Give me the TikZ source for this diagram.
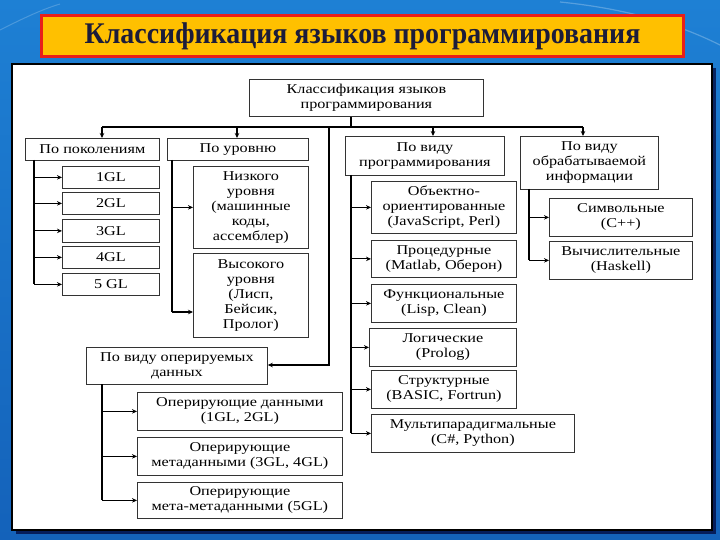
\documentclass[tikz,border=0pt]{standalone}
\usepackage{fontspec}
\setmainfont{Liberation Serif}
\newfontfamily\boxfont[FakeStretch=1.2]{Liberation Serif}
\newfontfamily\titlefont[FakeStretch=0.93]{Liberation Serif}
\usetikzlibrary{arrows.meta}
\definecolor{bgtop}{HTML}{1E80D4}
\definecolor{bgbot}{HTML}{1462BA}
\definecolor{titlefill}{HTML}{FFC000}
\definecolor{titleline}{HTML}{E8201A}
\definecolor{titletext}{HTML}{1C1C3A}
\definecolor{boxline}{HTML}{333333}
\tikzset{
  box/.style={draw=boxline, line width=0.8pt, fill=white, anchor=north west, inner sep=0pt,
    align=center, font=\boxfont\fontsize{13.5}{15}\selectfont},
  conn/.style={line width=1.1pt, draw=black},
  arr/.style={conn, -{Stealth[length=5pt,width=4.5pt]}},
}
\begin{document}
\begin{tikzpicture}[x=1pt,y=-1pt]
\useasboundingbox (0,0) rectangle (720,540);
% background
\shade[top color=bgtop, bottom color=bgbot] (0,0) rectangle (720,540);
\draw[white, opacity=0.25, line width=1.2pt] (560,2) .. controls (640,10) and (690,30) .. (720,45);
\draw[white, opacity=0.2, line width=1pt] (0,30) .. controls (20,20) and (40,10) .. (60,4);
% title
\node[draw=titleline, line width=3pt, fill=titlefill, minimum width=642pt, minimum height=41pt,
  anchor=north west, inner sep=0pt, text=titletext,
  font=\titlefont\fontsize{30}{32}\selectfont\bfseries] (title) at (40,14) {Классификация языков программирования};
% panel
\fill[black!80!blue, opacity=0.7] (16,68) rectangle (716,534);
\draw[fill=white, line width=2.5pt] (12,64) rectangle (712,530);
% top
\node[box, minimum width=234pt, minimum height=37pt] (top) at (249,79) {Классификация языков\\программирования};
% level 1
\node[box, minimum width=134pt, minimum height=22pt] (gen) at (25,138) {По поколениям};
\node[box, minimum width=141pt, minimum height=22pt] (lvl) at (167,138) {По уровню};
\node[box, minimum width=159pt, minimum height=39pt] (prog) at (345,136) {По виду\\программирования};
\node[box, minimum width=138pt, minimum height=53pt] (info) at (520,136) {По виду\\обрабатываемой\\информации};
% generations
\node[box, minimum width=97pt, minimum height=22pt] (g1) at (62,166) {1GL};
\node[box, minimum width=97pt, minimum height=22pt] (g2) at (62,192) {2GL};
\node[box, minimum width=97pt, minimum height=23pt] (g3) at (62,219) {3GL};
\node[box, minimum width=97pt, minimum height=22pt] (g4) at (62,246) {4GL};
\node[box, minimum width=97pt, minimum height=22pt] (g5) at (62,273) {5 GL};
% levels
\node[box, minimum width=115pt, minimum height=82pt] (low) at (193,166) {Низкого\\уровня\\(машинные\\коды,\\ассемблер)};
\node[box, minimum width=115pt, minimum height=84pt] (high) at (193,253) {Высокого\\уровня\\(Лисп,\\Бейсик,\\Пролог)};
% data
\node[box, minimum width=181pt, minimum height=37pt] (data) at (86,347) {По виду оперируемых\\данных};
\node[box, minimum width=205pt, minimum height=38pt] (d1) at (137,392) {Оперирующие данными\\(1GL, 2GL)};
\node[box, minimum width=205pt, minimum height=38pt] (d2) at (137,437) {Оперирующие\\метаданными (3GL, 4GL)};
\node[box, minimum width=205pt, minimum height=36pt] (d3) at (137,482) {Оперирующие\\мета-метаданными (5GL)};
% programming
\node[box, minimum width=145pt, minimum height=52pt] (p1) at (371,181) {Объектно-\\ориентированные\\(JavaScript, Perl)};
\node[box, minimum width=145pt, minimum height=37pt] (p2) at (371,240) {Процедурные\\(Matlab, Оберон)};
\node[box, minimum width=145pt, minimum height=38pt] (p3) at (371,284) {Функциональные\\(Lisp, Clean)};
\node[box, minimum width=147pt, minimum height=38pt] (p4) at (369,328) {Логические\\(Prolog)};
\node[box, minimum width=145pt, minimum height=38pt] (p5) at (371,370) {Структурные\\(BASIC, Fortrun)};
\node[box, minimum width=203pt, minimum height=38pt] (p6) at (371,414) {Мультипарадигмальные\\(C\#, Python)};
% info
\node[box, minimum width=143pt, minimum height=38pt] (i1) at (549,198) {Символьные\\(C++)};
\node[box, minimum width=143pt, minimum height=38pt] (i2) at (549,241) {Вычислительные\\(Haskell)};
% bus
\coordinate (busT) at (351,127);
\coordinate (busL) at (102,127);
\coordinate (busA) at (237,127);
\coordinate (busB) at (433,127);
\coordinate (busR) at (583,127);
\coordinate (busD) at (329,127);
\draw[conn] (busT |- top.south) -- (busT);
\draw[conn] (busL) -- (busR);
\draw[arr] (busL) -- (busL |- gen.north);
\draw[arr] (busA) -- (busA |- lvl.north);
\draw[arr] (busB) -- (busB |- prog.north);
\draw[arr] (busR) -- (busR |- info.north);
\coordinate (dturn) at (329,365);
\draw[arr] (busD) -- (dturn) -- (dturn -| data.east);
% generation spine
\coordinate (gs) at (34,160);
\draw[conn] (gs) -- (gs |- g5.west);
\foreach \n in {g1,g2,g3,g4,g5} \draw[arr] (gs |- \n.west) -- (\n.west);
% level spine
\coordinate (ls) at (172,160);
\coordinate (lsH) at (172,312);
\draw[conn] (ls) -- (lsH);
\draw[arr] (ls |- low.west) -- (low.west);
\draw[arr] (lsH) -- (lsH -| high.west);
% data spine
\coordinate (ds) at (102,384);
\draw[conn] (ds) -- (ds |- d3.west);
\foreach \n in {d1,d2,d3} \draw[arr] (ds |- \n.west) -- (\n.west);
% programming spine
\coordinate (ps) at (351,175);
\draw[conn] (ps) -- (ps |- p6.west);
\foreach \n in {p1,p2,p3,p4,p5,p6} \draw[arr] (ps |- \n.west) -- (\n.west);
% info spine
\coordinate (is) at (529,189);
\draw[conn] (is) -- (is |- i2.west);
\foreach \n in {i1,i2} \draw[arr] (is |- \n.west) -- (\n.west);
\end{tikzpicture}
\end{document}
